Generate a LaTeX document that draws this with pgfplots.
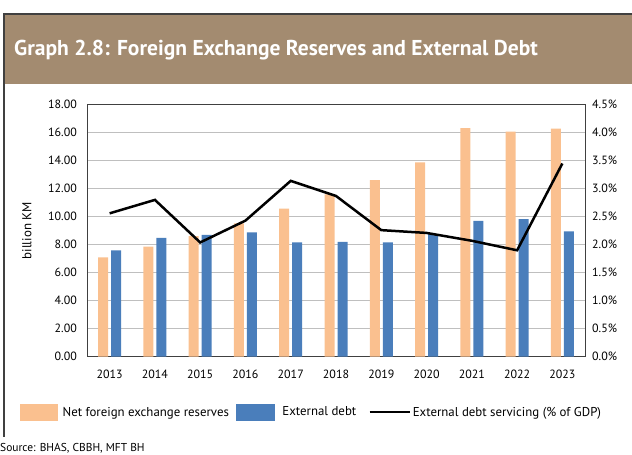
\documentclass[border=0pt]{standalone}
\usepackage{fontspec}
\setmainfont{PT Sans}
\usepackage{pgfplots}
\pgfplotsset{compat=1.18}
\definecolor{banner}{RGB}{163,139,112}
\definecolor{resorange}{RGB}{250,192,143}
\definecolor{debtblue}{RGB}{74,126,187}
\definecolor{gridgray}{RGB}{191,191,191}
\definecolor{framegray}{RGB}{64,64,64}

\begin{document}
\begin{tikzpicture}[x=1bp,y=1bp]
\useasboundingbox (0,0) rectangle (632,455);
% title banner and frame
\fill[banner] (4,371) rectangle (632,441);
\draw[framegray, line width=1.2bp] (4,18) -- (4,441) -- (632,441);
\node[anchor=west, text=white, inner sep=0pt,
      font=\fontsize{21.6}{24}\selectfont\bfseries] at (14,405)
  {Graph 2.8: Foreign Exchange Reserves and External Debt};
\node[anchor=south west, inner sep=0pt, font=\fontsize{11.5}{13}\selectfont]
  at (0,2) {Source: BHAS, CBBH, MFT BH};

\pgfplotsset{
  common/.style={
    at={(87bp,98.3bp)}, anchor=south west,
    scale only axis, width=498bp, height=252bp,
    xmin=-0.5, xmax=10.5,
    major tick length=0pt,
    tick label style={font=\fontsize{12}{14}\selectfont, inner sep=0pt},
    /pgf/number format/assume math mode=true,
    axis line style={framegray, line width=1bp},
  },
}

\begin{axis}[
  common,
  ymin=0, ymax=18,
  ytick={0,2,4,6,8,10,12,14,16,18},
  yticklabel={\pgfmathprintnumber[fixed,fixed zerofill,precision=2]{\tick}},
  yticklabel style={xshift=-10bp},
  xtick={0,1,2,3,4,5,6,7,8,9,10},
  xticklabels={2013,2014,2015,2016,2017,2018,2019,2020,2021,2022,2023},
  xticklabel style={yshift=-13bp},
  ymajorgrids, grid style={gridgray, line width=1bp},
  ylabel={billion KM},
  every axis y label/.style={at={(rel axis cs:-0.1205,0.5)}, rotate=90,
    anchor=center, font=\fontsize{13}{15}\selectfont},
]
  \addplot[ybar, bar width=10bp, bar shift=-6.5bp, fill=resorange, draw=none]
    coordinates {(0,7.10)(1,7.86)(2,8.62)(3,9.53)(4,10.57)(5,11.60)
                 (6,12.62)(7,13.88)(8,16.33)(9,16.07)(10,16.29)};
  \addplot[ybar, bar width=10bp, bar shift=6.5bp, fill=debtblue, draw=none]
    coordinates {(0,7.60)(1,8.48)(2,8.71)(3,8.88)(4,8.17)(5,8.21)
                 (6,8.17)(7,8.75)(8,9.71)(9,9.83)(10,8.95)};
\end{axis}

\begin{axis}[
  common,
  ymin=0, ymax=4.5,
  axis y line*=right, axis x line=none,
  ytick={0,0.5,1,1.5,2,2.5,3,3.5,4,4.5},
  yticklabel={\pgfmathprintnumber[fixed,fixed zerofill,precision=1]{\tick}\%},
  yticklabel style={xshift=7bp},
  legend columns=3,
  legend style={at={(rel axis cs:-0.1345,-0.2194)}, anchor=west,
    draw=none, fill=none, inner sep=0pt, column sep=0pt,
    nodes={inner sep=0pt, font=\fontsize{12.9}{15}\selectfont}},
]
  \addlegendimage{legend image code/.code={\fill[resorange] (0bp,-8bp) rectangle (37bp,8.5bp);}}
  \addlegendentry{\hspace*{5bp}Net foreign exchange reserves\hspace*{7bp}}
  \addlegendimage{legend image code/.code={\fill[debtblue] (0bp,-8bp) rectangle (38bp,8.5bp);}}
  \addlegendentry{\hspace*{8bp}External debt\hspace*{12bp}}
  \addplot[black, line width=2.5bp, mark=none,
    legend image code/.code={\draw[black, line width=2.5bp] (0bp,0bp) -- (40bp,0bp);}]
    coordinates {(0,2.56)(1,2.80)(2,2.04)(3,2.43)(4,3.14)(5,2.87)
                 (6,2.26)(7,2.21)(8,2.07)(9,1.90)(10,3.45)};
  \addlegendentry{\hspace*{2bp}External debt servicing (\% of GDP)}
\end{axis}
\end{tikzpicture}
\end{document}
